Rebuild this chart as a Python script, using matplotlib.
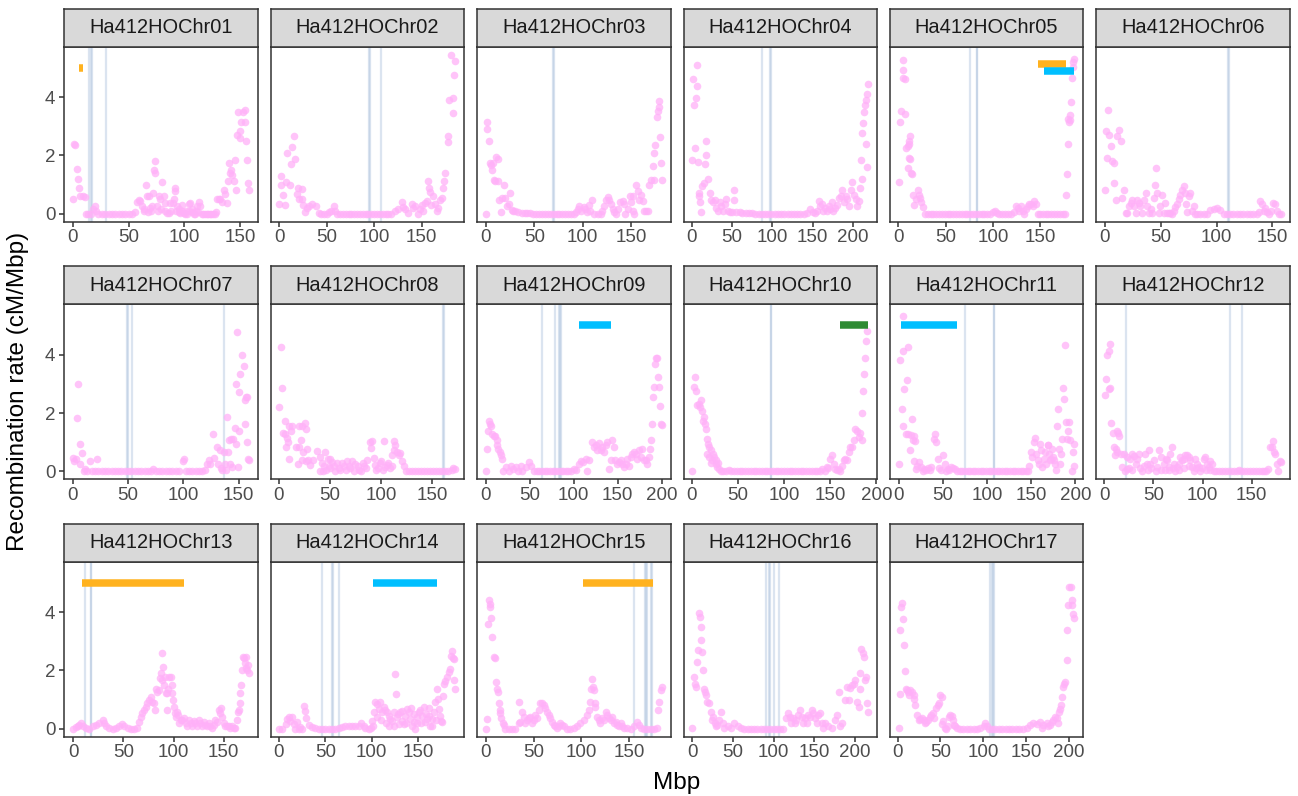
import matplotlib
matplotlib.use("Agg")
import matplotlib.pyplot as plt
from matplotlib.ticker import MultipleLocator

plt.rcParams['font.family'] = ['Liberation Sans', 'DejaVu Sans']

# ---------------------------------------------------------------------------
# Recombination rate (cM/Mbp) along each chromosome: (position Mbp, rate)
# ---------------------------------------------------------------------------
chrom_names = ["Ha412HOChr01", "Ha412HOChr02", "Ha412HOChr03", "Ha412HOChr04",
               "Ha412HOChr05", "Ha412HOChr06", "Ha412HOChr07", "Ha412HOChr08",
               "Ha412HOChr09", "Ha412HOChr10", "Ha412HOChr11", "Ha412HOChr12",
               "Ha412HOChr13", "Ha412HOChr14", "Ha412HOChr15", "Ha412HOChr16",
               "Ha412HOChr17"]

chr01 = [(0.3, 0.5), (1.5, 2.4), (2.4, 2.35), (3.6, 1.55), (4.5, 1.2), (5.7, 0.87), (6.9, 0.6),
         (9.2, 0.6), (10.7, 0.58), (12, 0), (14, 0), (16, 0), (18, 0.15), (19.7, 0.28), (21, 0.1),
         (23, 0), (26, 0), (29, 0), (32, 0), (35, 0), (38, 0), (41, 0), (44, 0), (47, 0), (50, 0),
         (53, 0), (56, 0.05), (57.5, 0.4), (59, 0.49), (60.4, 0.44), (62, 0.26), (63.4, 0.15),
         (64, 0.1), (65.6, 0.97), (66.5, 0.6), (67, 0.05), (68, 0.6), (69.5, 0.2), (70, 0.1),
         (71, 0.26), (72, 0.72), (72.4, 1.5), (73.4, 1.8), (74, 1.4), (75.4, 0.26), (76, 0.1),
         (77.5, 0.6), (78.4, 0.5), (79, 0.15), (80, 1.08), (81.4, 0.6), (82.3, 0.38), (83, 0.1),
         (84.4, 0.03), (86.5, 0.03), (87.4, 0.38), (88, 0.1), (89.7, 0.38), (90.3, 0.5),
         (91.8, 0.9), (91.8, 0.78), (92, 0.1), (93.3, 0.26), (94.8, 0.15), (95, 0.05),
         (96.3, 0.03), (97.8, 0.3), (98, 0.1), (99.3, 0.03), (100.8, 0), (101, 0.1), (102.3, 0),
         (103.8, 0.35), (104, 0.1), (105.2, 0.37), (106.7, 0.15), (107, 0.05), (108.2, 0),
         (109.7, 0), (110, 0.1), (111.2, 0.26), (112, 0.05), (113.3, 0.42), (114.2, 0.26),
         (115.7, 0), (117, 0), (118, 0), (120, 0), (121, 0), (123, 0), (124, 0), (126, 0),
         (127, 0), (128, 0.05), (129.1, 0.5), (130.6, 0.52), (132.1, 0.5), (133.6, 0.4),
         (135, 0.83), (136.6, 0.68), (138, 0.38), (139, 1.12), (139.9, 1.75), (141, 1.4),
         (141.6, 1.5), (142.5, 1.33), (144, 1.12), (144.9, 1.86), (146.4, 0.83), (147, 2.7),
         (147.9, 3.5), (149.4, 2.6), (150, 2.82), (150.6, 3.16), (152.1, 3.5), (153.9, 3.55),
         (154.5, 3.16), (155.4, 2.5), (156, 1.86), (156.8, 1.06), (157.7, 0.83)]

chr02 = [(0.5, 0.32), (2.0, 1.0), (2.3, 1.29), (4.2, 0.64), (6, 0.3), (7, 1.1), (8.7, 2.08),
         (11.2, 1.0), (12.9, 1.69), (13.6, 2.3), (15.7, 2.67), (16.8, 1.87), (18.5, 0.67),
         (19.9, 0.89), (21, 0.5), (23.7, 0.84), (23.7, 0.5), (25.5, 0.3), (27.2, 0.06),
         (29.6, 0.2), (32, 0.28), (34.9, 0.32), (38.4, 0.26), (41.8, 0.03), (44, 0), (47, 0),
         (50, 0), (53, 0.05), (55, 0.1), (57.5, 0.26), (59, 0.1), (61, 0), (64, 0), (67, 0),
         (70, 0), (73, 0), (76, 0), (79, 0), (82, 0), (85, 0), (88, 0), (91, 0), (94, 0), (97, 0),
         (100, 0), (103, 0), (106, 0), (109, 0), (112, 0), (115, 0), (118, 0), (122, 0.09),
         (125.5, 0.15), (129, 0.4), (130, 0.25), (132.5, 0.15), (136, 0.03), (139.5, 0.32),
         (141, 0.2), (142.9, 0.26), (146.4, 0), (148.2, 0.15), (149.9, 0.29), (151, 0.1),
         (153.3, 0.38), (155.8, 0.43), (156.8, 1.12), (157.5, 0.89), (158.5, 0.74), (160, 0.3),
         (162, 0.6), (163.7, 0.32), (165.5, 0.09), (167.2, 0.2), (168.9, 0.49), (170.7, 0.54),
         (172.4, 0.89), (173.5, 1.12), (174.1, 1.4), (177.2, 2.46), (177.9, 2.68), (178.9, 3.91),
         (180.3, 5.45), (182.4, 3.96), (183.0, 3.45), (184.1, 4.74), (185.2, 5.22)]

chr03 = [(0, 0), (1, 2.92), (1.4, 3.13), (2.7, 2.48), (3.8, 1.74), (5.5, 1.66), (6.5, 1.5),
         (7.2, 1.74), (7.9, 1.17), (9.6, 1.11), (10.7, 1.94), (12, 1.88), (13, 1.11), (14, 0.49),
         (15.4, 0.05), (16.5, 0.55), (18.9, 1.0), (19.9, 0.55), (21.7, 0.26), (23.4, 0.32),
         (25, 0.72), (26.8, 0.13), (28, 0.1), (30, 0.09), (33.5, 0.07), (37, 0.03), (40, 0.03),
         (43, 0.02), (46, 0.02), (49, 0), (52, 0), (55, 0), (58, 0), (61, 0), (64, 0), (67, 0),
         (70, 0), (73, 0), (76, 0), (79, 0), (82, 0), (85, 0), (88, 0), (91, 0), (93, 0.05),
         (94.7, 0.17), (96.4, 0.26), (98, 0.1), (100.9, 0.24), (102.6, 0.15), (104, 0.05),
         (106.8, 0.3), (108, 0.1), (109.9, 0.49), (112, 0), (115.4, 0), (118.9, 0), (120.5, 0.1),
         (122.3, 0.26), (124, 0.49), (125.8, 0.58), (127.5, 0.49), (129.2, 0.32), (131, 0.15),
         (132.5, 0.05), (134.4, 0), (136.1, 0.15), (138.9, 0.4), (141.3, 0.44), (142.3, 0.32),
         (144, 0), (146.4, 0.15), (149.2, 0.6), (149.9, 0.4), (151.6, 0.6), (151.6, 0.1),
         (153.3, 0), (155, 0.97), (156.8, 0.78), (158.5, 0.49), (160.2, 0.66), (162, 0.44),
         (163.7, 0.09), (165.4, 0.09), (167.8, 0.09), (168.9, 1.0), (170.7, 1.17), (172.4, 1.65),
         (173.4, 1.17), (174.1, 2.09), (175.2, 2.37), (176.9, 3.3), (177.6, 3.53), (178.6, 3.65),
         (179.3, 3.85), (180.3, 2.62), (181, 1.74), (181.7, 1.17)]

chr04 = [(0.8, 1.86), (2.1, 4.6), (3.4, 3.72), (4.2, 2.27), (5, 3.96), (6.3, 5.1), (7.1, 4.38),
         (7.9, 1.78), (9.1, 0.72), (9.6, 0.6), (10.5, 0.4), (11.3, 0.07), (13.4, 0.95),
         (15.5, 1.06), (16.8, 1.69), (17.6, 2.5), (18, 2.0), (20.1, 1.2), (22.2, 0.72),
         (24.3, 0.49), (26.4, 0.4), (28.5, 0.49), (30.6, 0.2), (32.5, 0.1), (34.8, 0.4),
         (36.9, 0.26), (39, 0.1), (41.1, 0.32), (43.2, 0.51), (45.3, 0.09), (48, 0.05), (50, 0.05),
         (52.4, 0.8), (52.8, 0.47), (55.3, 0.07), (59.5, 0.07), (63, 0.03), (67, 0.03), (71, 0.02),
         (75, 0.02), (79, 0), (83, 0), (87, 0), (91, 0), (95, 0), (99, 0), (103, 0), (107, 0),
         (111, 0), (115, 0), (119, 0), (123, 0), (127, 0), (131, 0), (135, 0), (139, 0),
         (143, 0.02), (147, 0.15), (150, 0.05), (153, 0.03), (155, 0.1), (157.5, 0.44),
         (159.6, 0.26), (161.7, 0.32), (163.5, 0.1), (165.9, 0.2), (168, 0.1), (170.1, 0.26),
         (172, 0.15), (174.3, 0.4), (176, 0.1), (178.5, 0.2), (180.5, 0.3), (182.7, 0.55),
         (184.8, 0.6), (186.9, 0.83), (189, 0.4), (191.1, 0.6), (193.2, 0.5), (195.3, 0.26),
         (197.4, 0.83), (199.5, 1.1), (201.6, 0.66), (203.7, 0.5), (205.8, 0.26), (207.9, 0.44),
         (209, 0.9), (210, 1.85), (211, 1.2), (212, 2.76), (213, 3.1), (214, 3.5), (215, 3.72),
         (216, 3.9), (217, 2.4), (217.5, 1.6), (218, 4.1), (219, 4.45)]

chr05 = [(0.1, 1.08), (1.8, 3.16), (2.5, 3.53), (4.3, 4.94), (5.0, 4.64), (5.3, 5.26), (6.8, 4.6),
         (7.1, 3.42), (8, 2.25), (9.8, 2.31), (10.8, 2.4), (11.5, 2.48), (12.5, 2.66), (9.8, 1.57),
         (10.8, 1.91), (12.2, 1.89), (13.2, 1.4), (14.2, 1.38), (15, 0.63), (16.7, 0.29),
         (18.5, 0.52), (20.3, 0.8), (21.3, 0.63), (23, 0.54), (23.7, 0.4), (25.5, 0.23), (28, 0),
         (31, 0), (34, 0), (37, 0), (40, 0), (43, 0), (46, 0), (49, 0), (52, 0), (55, 0), (58, 0),
         (61, 0), (64, 0), (67, 0), (70, 0), (73, 0), (76, 0), (79, 0), (82, 0), (85, 0), (88, 0),
         (91, 0), (94, 0), (97, 0), (100, 0.05), (101.8, 0.09), (104, 0.03), (107, 0), (110, 0),
         (113, 0), (116, 0), (119, 0), (122, 0.05), (124.7, 0.26), (126.4, 0.2), (128, 0.1),
         (129.9, 0.26), (131.5, 0.1), (133.5, 0), (135.3, 0.15), (137, 0.26), (138.8, 0.32),
         (140.6, 0.32), (142.3, 0.26), (144.1, 0.43), (145.9, 0.32), (147.6, 0), (150, 0),
         (153, 0), (156, 0), (159, 0), (162, 0), (165, 0), (168, 0), (171, 0), (174, 0), (176, 0),
         (177.7, 0.63), (178.4, 1.38), (179.5, 2.4), (180.1, 3.26), (181.2, 3.14), (181.9, 3.37),
         (182.2, 3.2), (183, 3.82), (184, 4.64), (184.8, 5.02), (185.5, 5.2), (186.5, 5.31)]

chr06 = [(0, 0.83), (1.2, 2.83), (2.1, 1.91), (3, 3.57), (3.6, 2.71), (5.1, 2.31), (6.6, 1.8),
         (8.1, 1.74), (8.1, 1.04), (9.5, 0.49), (11, 2.65), (12.5, 2.88), (14, 2.48), (15.5, 0.55),
         (17, 0.83), (18.5, 0.03), (20, 0.03), (21.4, 0.26), (22.9, 0.37), (24.4, 0.49),
         (25.9, 0.26), (27.4, 0.03), (28.9, 0.49), (30.4, 0.37), (31.8, 0.26), (33.3, 0.03),
         (34.8, 0.49), (36.3, 0.72), (37.8, 0.26), (39.3, 0.03), (40.8, 0.15), (42.3, 0.03),
         (43.7, 0.55), (45.2, 1.0), (45.5, 1.57), (46.7, 0.72), (48.2, 0.03), (49.7, 0.26),
         (51.2, 0.66), (52.7, 0.03), (54.2, 0.37), (55.6, 0.03), (57.1, 0.03), (58.6, 0.03),
         (60, 0), (61.5, 0.1), (63, 0.22), (64.5, 0.35), (66, 0.5), (67.5, 0.65), (69, 0.8),
         (70.5, 0.95), (71.5, 0.7), (72.5, 0.35), (73.5, 0.05), (75, 0.6), (76.5, 0.72), (78, 0.1),
         (79.4, 0.26), (80.9, 0), (82.4, 0), (85.4, 0), (88.4, 0), (91.4, 0), (94.3, 0.12),
         (97.3, 0.17), (100.3, 0.2), (103.3, 0.13), (106.3, 0), (109, 0), (112, 0), (115, 0),
         (118, 0), (121, 0), (124, 0), (127, 0), (130, 0), (133, 0), (136, 0), (138, 0.05),
         (139, 0.43), (140.5, 0.32), (142, 0.1), (143.5, 0.2), (145, 0.05), (147, 0), (149, 0.1),
         (150.9, 0.37), (152.4, 0.32), (154, 0.1), (155.5, 0), (157.5, 0)]

chr07 = [(0.2, 0.47), (1.4, 0.36), (2.9, 0.44), (3.9, 1.82), (4.5, 3.0), (6.3, 0.94), (6.9, 0.26),
         (8.4, 0.63), (9.9, 0.03), (11.4, 0.09), (13, 0), (15.3, 0.35), (17, 0), (20, 0),
         (21.9, 0.44), (23, 0.02), (26, 0), (29, 0), (32, 0), (35, 0), (38.4, 0.03), (41, 0),
         (44, 0), (47, 0), (50, 0), (53, 0), (56, 0), (59, 0), (62, 0), (65, 0), (68, 0),
         (71, 0.03), (72.9, 0.09), (75, 0.03), (78, 0), (81, 0), (84, 0), (87, 0), (90, 0),
         (93, 0), (96, 0), (99.3, 0.35), (100.5, 0.44), (102, 0), (105, 0), (108, 0), (111, 0),
         (114, 0), (117, 0), (120, 0.05), (121.3, 0.26), (122.8, 0.38), (124.3, 0.26),
         (126.7, 1.27), (127.9, 0.47), (130.1, 0.83), (131.4, 0.26), (132.9, 0.72), (134, 0.1),
         (135.3, 0.04), (136.5, 0.66), (137.4, 0.26), (138.9, 0.04), (139.8, 1.86), (140.4, 0.66),
         (141.3, 1.06), (141.9, 0.26), (142.8, 1.12), (143.7, 0.15), (144.9, 1.12), (146.4, 1.5),
         (147.3, 0.95), (147.9, 3.0), (148.9, 4.77), (149.4, 0.15), (150, 2.71), (150.3, 1.4),
         (151.5, 3.34), (153, 3.97), (155, 3.6), (155.4, 2.45), (156, 1.64), (156.3, 2.54),
         (157.2, 2.54), (157.5, 1.0), (158.4, 0.43), (159.3, 0.38)]

chr08 = [(0.7, 2.22), (1.7, 4.27), (2.7, 2.85), (4, 1.33), (5.7, 1.28), (6, 1.71), (7.4, 0.85),
         (8.4, 1.14), (9.4, 1.0), (10, 1.54), (10, 0.42), (11.7, 1.37), (12.8, 1.56), (16.8, 0.85),
         (18.5, 0.26), (20.1, 0.85), (20.1, 1.54), (21.8, 1.08), (22.8, 1.57), (22.8, 0.38),
         (23.5, 0.68), (25.8, 1.65), (26.2, 0.34), (26.8, 1.46), (27.9, 0.77), (28.5, 0.4),
         (30.2, 0.23), (33.6, 0.4), (37.6, 0.71), (40.3, 0.51), (40.3, 0), (41.9, 0.28),
         (43.6, 0), (44, 0.2), (45.3, 0.66), (46, 0.05), (48, 0.43), (48.7, 0.17), (50, 0.1),
         (50.3, 0.43), (52, 0.32), (54, 0.2), (55.4, 0), (57, 0.3), (58.7, 0.11), (60, 0.05),
         (62.1, 0.28), (64, 0.2), (65.4, 0.06), (67, 0.35), (68.8, 0.17), (70, 0.1), (72.1, 0.34),
         (73.8, 0.02), (75, 0.25), (77.2, 0.17), (79, 0.05), (80.5, 0), (82, 0.3), (83.9, 0.17),
         (85, 0.1), (86.6, 0.4), (88.9, 1.0), (90.6, 0.8), (91.3, 1.05), (93, 0.45), (94, 0.23),
         (95.6, 0.06), (97, 0.1), (99, 0.28), (100, 0.35), (102.3, 0.06), (103.4, 1.05),
         (104, 0.15), (105.7, 0.23), (107, 0.3), (109.1, 0.11), (110.7, 0.57), (111, 0.2),
         (112.4, 1.03), (113, 0.75), (114.1, 0.91), (115.8, 0.66), (117.4, 0.57), (119.1, 0.63),
         (120.8, 0.34), (122.5, 0.17), (124.2, 0), (127, 0), (130, 0), (133, 0), (136, 0),
         (139, 0), (142, 0), (145, 0), (148, 0), (151, 0), (154, 0), (157, 0), (160, 0), (163, 0),
         (166, 0.02), (169.5, 0.06), (171, 0.11), (172.8, 0.09)]

chr09 = [(0, 0), (1.5, 0.78), (2.3, 1.4), (3.4, 1.72), (4.6, 1.63), (6.1, 1.57), (7.3, 1.29),
         (9.2, 1.23), (10.3, 1.2), (12.2, 1.06), (13, 0.89), (14.1, 0.78), (15.6, 0.66),
         (16.8, 0.55), (17.9, 0.43), (19, 0.03), (22.4, 0.15), (26.2, 0.03), (28.9, 0.2),
         (31.2, 0.09), (33.8, 0.15), (36.5, 0.03), (39.5, 0.17), (41.4, 0.03), (45.2, 0.15),
         (49, 0.32), (50.9, 0.2), (54.7, 0.03), (58, 0), (61, 0), (64, 0), (67, 0), (70, 0),
         (73, 0), (76, 0), (79, 0), (82, 0), (85, 0), (88, 0), (91, 0), (94, 0), (97, 0),
         (100.1, 0.09), (102, 0.05), (105.8, 0.26), (107.7, 0.34), (110.8, 0.32), (113.4, 0.43),
         (115.3, 0.03), (117.2, 0.38), (121.1, 1.0), (123, 0.83), (124.9, 0.89), (126.8, 0.72),
         (128.7, 0.97), (130.6, 0.74), (132.5, 0.83), (134.4, 0.68), (136.3, 0.89), (138.2, 1.0),
         (140.1, 0.09), (142, 0.38), (143.9, 1.08), (145.8, 0.83), (146.5, 0.4), (149.5, 0.26),
         (151.5, 0.32), (153.4, 0.38), (155.3, 0.26), (157.2, 0.15), (159.1, 0.26), (161, 0.43),
         (162.9, 0.2), (164.8, 0.49), (166.7, 0.6), (168.6, 0.66), (170.5, 0.6), (172.4, 0.43),
         (174.3, 0.72), (176.2, 0.49), (178.1, 0.78), (180, 0.38), (181.9, 0.38), (183.8, 0.26),
         (185.7, 0.49), (186.8, 0.78), (188.3, 1.06), (189.5, 1.63), (190.6, 2.54), (191.8, 2.88),
         (192.5, 3.68), (193.7, 3.9), (195.2, 3.88), (196.3, 3.24), (197.1, 2.88), (198.2, 2.23),
         (199, 1.63), (200.1, 1.6)]

chr10 = [(0.7, 0), (2.5, 2.88), (3.6, 3.22), (4.3, 2.77), (6.1, 2.29), (7.9, 2.31), (9, 2.2),
         (10.4, 2.45), (11.5, 2.08), (12.6, 1.74), (13.3, 1.86), (14.4, 1.63), (15.5, 1.46),
         (16.2, 1.12), (17, 0.6), (17.6, 0.95), (19, 0.5), (19.1, 0.83), (20.5, 0.72), (21, 0.3),
         (22.3, 0.38), (23, 0.6), (24.1, 0.49), (25.9, 0.26), (26, 0.4), (27.7, 0.15), (28, 0.3),
         (29.5, 0.09), (31.3, 0.03), (34, 0), (37, 0.02), (40, 0.05), (43, 0), (46, 0), (49, 0),
         (52, 0), (55, 0), (58, 0), (61, 0), (64, 0), (67, 0), (70, 0), (73, 0), (76, 0), (79, 0),
         (82, 0), (85, 0), (88, 0), (91, 0), (94, 0), (97, 0), (100, 0), (103, 0), (106, 0),
         (109, 0), (112, 0), (115, 0), (118, 0), (121, 0), (124, 0), (127, 0), (130, 0), (133, 0),
         (136, 0), (139, 0.03), (141, 0.09), (144, 0.03), (146.4, 0.15), (148, 0.1), (150, 0.43),
         (151.8, 0.55), (153.6, 0.26), (155.4, 0.09), (157, 0.05), (159, 0.09), (160.8, 0.03),
         (162.5, 0.2), (164.4, 0.38), (166.2, 0.43), (168, 0.38), (169.8, 0.66), (171.6, 0.83),
         (173.4, 0.83), (175.2, 1.06), (177, 1.46), (178.8, 1.4), (180.6, 1.18), (182.4, 1.31),
         (184.2, 1.06), (184.9, 2.0), (186, 2.75), (186.7, 3.34), (187.8, 3.9), (188.5, 4.47),
         (189.6, 4.81)]

chr11 = [(0, 0.26), (1.5, 3.82), (3.4, 2.14), (4.5, 4.14), (4.5, 1.55), (5.2, 5.33), (6.4, 2.83),
         (8.3, 1.29), (9.4, 3.13), (10.1, 4.25), (10.9, 1.29), (13.2, 0.75), (13.9, 1.25),
         (14.7, 1.78), (15.8, 1.06), (16.9, 0.35), (17.7, 1.23), (18.5, 1.04), (19.6, 0.09),
         (21, 0.2), (23.4, 0.32), (25.3, 0.15), (27.2, 0.03), (29, 0.09), (31, 0.05), (33, 0.1),
         (35, 0.05), (37, 0.15), (39.6, 1.12), (41.4, 1.29), (42.5, 1.0), (44.4, 0.41), (46, 0.1),
         (48, 0.05), (50.1, 0.57), (52, 0.26), (53.9, 0.03), (55.8, 0.09), (57.5, 0.05),
         (59.5, 0.15), (61.4, 0.1), (63.3, 0.09), (66, 0), (69, 0), (72, 0), (75, 0), (78, 0),
         (81, 0), (84, 0), (87, 0), (90, 0), (93, 0), (96, 0), (99, 0), (102, 0), (105, 0),
         (108, 0), (111, 0), (114, 0), (117, 0), (120, 0), (123, 0), (126, 0), (129, 0), (132, 0),
         (135, 0), (138, 0), (141, 0), (144, 0), (146, 0.03), (147.9, 0.2), (149.8, 0.66),
         (150.6, 0.49), (152.9, 1.0), (154.4, 1.15), (155.5, 0.6), (157.4, 0.38), (159.3, 0.26),
         (160.4, 0.95), (161.2, 0.72), (162.3, 0.15), (164.2, 0.43), (165.7, 0.66), (166.8, 0.26),
         (168.7, 0.89), (169.5, 0.91), (170.6, 0.6), (171.7, 0.38), (172.4, 0.43), (173.6, 0.78),
         (174.4, 0.49), (175.5, 0.38), (177, 0.26), (178.1, 0.06), (179.3, 1.57), (180, 2.14),
         (181.2, 0.78), (182.3, 0.26), (183.8, 0.6), (184.9, 1.12), (185.7, 2.86), (186.8, 2.48),
         (188.3, 4.34), (189.4, 1.68), (190.6, 1.12), (192.1, 1.4), (193.2, 1.68), (194.4, 1.06),
         (195.9, 0.03), (197, 0.66), (198.1, 0.95), (198.9, 0.2)]

chr12 = [(0.7, 2.63), (2, 3.17), (3, 4.0), (4.7, 4.11), (5.7, 4.38), (4.7, 2.82), (6.3, 2.86),
         (7.3, 1.66), (8.7, 1.31), (9.7, 0.83), (10.4, 0.55), (11.4, 0.78), (13.1, 1.37),
         (13.8, 1.31), (14.8, 1.23), (13.1, 0.66), (16.5, 0.6), (18, 0.15), (19.9, 0.6),
         (21.5, 0.03), (23.2, 0.09), (23.2, 0.49), (25, 0.1), (26.6, 0.43), (28, 0.05),
         (28.4, 0.6), (30.1, 0.52), (31.8, 0.26), (33.4, 0.43), (35.1, 0.6), (36, 0.1),
         (38.5, 0.03), (40, 0.2), (41.9, 0.6), (43.6, 0.26), (44, 0.05), (45.3, 0.72), (47, 0.26),
         (48, 0.1), (50.4, 0.38), (52.1, 0), (53.8, 0.15), (55.5, 0.72), (57.2, 0.49), (58, 0.05),
         (60.6, 0.26), (62, 0.05), (62.3, 0.43), (63.9, 0.38), (65.6, 0.15), (66, 0.05),
         (67.3, 0.6), (69, 0.83), (70, 0.1), (70.7, 0.26), (72.4, 0.03), (74.1, 0.15), (75.8, 0.26),
         (76, 0.05), (77.4, 0.49), (79.1, 0.38), (80.8, 0.43), (81, 0.1), (82.5, 0.55),
         (84.2, 0.55), (85.9, 0.49), (86, 0.2), (87.6, 0.38), (89.3, 0.15), (91, 0.03),
         (92.7, 0.43), (93, 0.1), (94.4, 0.26), (96, 0.15), (97.7, 0.03), (99, 0.1), (101.1, 0.43),
         (102.8, 0.49), (103, 0.05), (104.5, 0.26), (106.2, 0.15), (107.9, 0.36), (108, 0.05),
         (109.6, 0.26), (111.3, 0.03), (114, 0), (117, 0), (120, 0), (123, 0), (126, 0), (129, 0),
         (132, 0), (135, 0.02), (137, 0.05), (139, 0.02), (142, 0), (145, 0), (148, 0), (151, 0),
         (154, 0), (157, 0), (160, 0), (163, 0), (165, 0), (167, 0.09), (168.7, 0.83),
         (170.4, 0.85), (172.1, 1.04), (173.1, 0.66), (173.8, 0.6), (175.5, 0.26), (177.2, 0.03),
         (178.9, 0.36), (179.6, 0.32)]

chr13 = [(0, 0), (3, 0.06), (4.6, 0.1), (6.3, 0.14), (7.9, 0.19), (9.6, 0.08), (12.9, 0.02),
         (16.2, 0), (19.5, 0.08), (22.8, 0.14), (26.1, 0.19), (29.4, 0.31), (31, 0.19), (32.7, 0.08),
         (36, 0.02), (39.3, 0), (42.6, 0.02), (45.9, 0.08), (48.2, 0.16), (50.9, 0.08), (54.2, 0.02),
         (57.5, 0), (60.8, 0), (64.1, 0.02), (65.7, 0.25), (67.4, 0.42), (69, 0.53), (70.7, 0.65),
         (72.3, 0.76), (74, 0.87), (75.6, 0.99), (77.3, 1.1), (78.9, 0.93), (80.6, 0.87),
         (81.6, 0.65), (82.2, 1.38), (83.9, 1.27), (85.5, 1.33), (86.5, 1.73), (87.2, 1.9),
         (88.2, 1.67), (88.8, 2.58), (89.8, 2.12), (90.5, 1.5), (91.5, 1.78), (92.2, 1.22),
         (93.2, 0.65), (93.8, 1.22), (94.8, 1.38), (95.8, 1.78), (97.1, 1.78), (98.1, 1.5),
         (98.8, 1.22), (99.8, 0.99), (100.4, 0.76), (101.4, 0.53), (102.1, 0.42), (103.7, 0.59),
         (104.7, 0.47), (105.4, 0.19), (107, 0.31), (108.7, 0.31), (110.3, 0.37), (111.9, 0.19),
         (113.6, 0.08), (115.2, 0.31), (116.9, 0.19), (118.5, 0.08), (120.2, 0.28), (121.8, 0.19),
         (123.5, 0.08), (125.1, 0.31), (126.8, 0.19), (128.4, 0.08), (130.1, 0.25), (131.7, 0.14),
         (133.4, 0.08), (135, 0.19), (136.7, 0.08), (138.3, 0.02), (140, 0.14), (141.6, 0.31),
         (143.3, 0.25), (144.9, 0.65), (146.6, 0.53), (147.6, 0.71), (148.2, 0.42), (149.9, 0.19),
         (151.5, 0.08), (153.2, 0.08), (154.8, 0.1), (156.5, 0.02), (158.1, 0.08), (159.8, 0.02),
         (161.4, 0.02), (163.1, 0.31), (163.8, 0.59), (164.8, 0.65), (165.8, 0.87), (166.4, 1.22),
         (167.1, 1.5), (168.1, 2.01), (169.1, 2.47), (169.8, 2.42), (170.7, 2.24), (171.7, 2.47),
         (172.4, 2.07), (173, 2.01), (174, 2.19), (175, 1.9)]

chr14 = [(0.7, 0), (3.6, 0), (7.2, 0.17), (9, 0.34), (10.8, 0.4), (12.5, 0.26), (14.3, 0.4),
         (16.1, 0.17), (17.9, 0), (19.7, 0.23), (21.5, 0), (23.3, 0.06), (25.1, 0), (27.6, 0.77),
         (28.5, 0.6), (29.4, 0.36), (32.3, 0.14), (35.8, 0.06), (39.4, 0.02), (43, 0), (46.6, 0),
         (50.2, 0), (53.8, 0), (57.3, 0), (60.9, 0), (64.5, 0.02), (68.1, 0.06), (71.7, 0.09),
         (75.3, 0.09), (78.9, 0.11), (82.4, 0.11), (86, 0.11), (88.5, 0.2), (91.4, 0.11),
         (93.2, 0.02), (96.8, 0), (99.6, 0.02), (100.4, 0.28), (101, 0.1), (102.2, 0.57),
         (103.9, 0.91), (105.7, 0.85), (106, 0.4), (107.5, 0.68), (109.3, 0.91), (110, 0.3),
         (111.1, 0.57), (112.9, 0.74), (114.7, 0.63), (115, 0.2), (116.5, 0.57), (118.3, 0.45),
         (119, 0.1), (120.1, 0.34), (121.9, 0.28), (123.7, 0.57), (124, 0.1), (125.4, 1.88),
         (126.5, 1.19), (127.2, 0.4), (128, 0.5), (129, 0.17), (130.8, 0.57), (132.6, 0.28),
         (133, 0.6), (134.4, 0.17), (136.2, 0.45), (137, 0.2), (138, 0.68), (139.8, 0.57),
         (141.6, 0.34), (142, 0.7), (143.4, 0.11), (145.2, 0.23), (146, 0.5), (147, 0),
         (148.7, 0.4), (149, 0.2), (150.5, 0.57), (152.3, 0.63), (153, 0.2), (154.1, 0.45),
         (155.9, 0.74), (157.7, 0.23), (158, 0.5), (159.5, 0.34), (161.3, 0.45), (162, 0.7),
         (163.1, 0.11), (164.9, 0.34), (165, 0.1), (166.7, 0.57), (168.5, 0.91), (169, 0.3),
         (170.3, 1.36), (171.3, 1.02), (172, 0.68), (173.8, 0.45), (174.9, 0.28), (175.6, 0.23),
         (176.3, 1.14), (177.4, 1.53), (179.2, 1.65), (181, 1.76), (182.8, 1.93), (184.6, 2.05),
         (185.7, 2.5), (186.4, 2.67), (187.1, 2.44), (188.2, 2.39), (188.9, 1.68), (190, 1.36)]

chr15 = [(0, 0), (1.1, 0.33), (1.7, 3.6), (2.8, 4.4), (3.8, 4.29), (4.5, 4.17), (5.6, 3.81),
         (6.6, 3.13), (8, 2.47), (9.1, 2.44), (10.1, 1.61), (11.5, 1.38), (12.6, 1.27), (13.3, 0.87),
         (14.3, 0.53), (15, 0.65), (16.1, 0.36), (17.5, 0.19), (18.5, 0.14), (20.3, 0), (23.8, 0),
         (27.3, 0), (30.8, 0), (34.3, 0.19), (35, 0.93), (36.1, 0.25), (37.8, 0.59), (39.6, 0.42),
         (41.3, 0.19), (43.1, 0.31), (44.8, 0.36), (46.6, 0.42), (48.3, 0.19), (50.1, 0.31),
         (51.9, 0.48), (53.6, 0.36), (55.4, 0.65), (57.1, 0.87), (58.9, 0.9), (60.6, 0.82),
         (62.4, 0.71), (64.1, 0.59), (65.9, 0.48), (67.6, 0.36), (69.4, 0.25), (71.1, 0.14),
         (72.9, 0.08), (74.6, 0.02), (76.4, 0.08), (78.1, 0.19), (79.9, 0.14), (81.6, 0.08),
         (85.1, 0), (88.6, 0), (92.1, 0.02), (95.6, 0.1), (99.2, 0.19), (102.7, 0.31),
         (106.2, 0.48), (107.9, 0.65), (109.7, 0.93), (110.7, 1.38), (111.4, 1.72), (112.5, 1.44),
         (113.2, 1.33), (114.2, 0.87), (114.9, 0.76), (116.7, 0.42), (118.5, 0.31), (120.2, 0.19),
         (122, 0.36), (123.7, 0.31), (125.5, 0.59), (127.2, 0.48), (129, 0.36), (130.7, 0.31),
         (132.5, 0.42), (134.2, 0.19), (136, 0.25), (137.7, 0.14), (139.5, 0.08), (141.2, 0.19),
         (143, 0.08), (144.8, 0.02), (148.3, 0.02), (151.8, 0), (155.3, 0.08), (158.8, 0.25),
         (160.6, 0.14), (162.3, 0.02), (165.8, 0), (169.3, 0), (172.8, 0), (176.3, 0), (179.8, 0.02),
         (180.9, 0.65), (181.9, 0.93), (183.3, 1.33), (184.4, 1.44)]

chr16 = [(0, 0.02), (2, 1.78), (3.3, 1.55), (4.9, 1.44), (6.1, 2.29), (7.4, 2.69), (8.2, 3.96),
         (9.4, 3.82), (10.3, 3.48), (11.1, 3.03), (12.3, 2.63), (13.6, 2.01), (14.4, 1.38),
         (15.2, 1.27), (16.5, 1.16), (18.5, 0.93), (20.6, 0.87), (22.7, 0.59), (24.8, 0.31),
         (26, 0.42), (27.7, 0.19), (28.9, 0.08), (31, 0.14), (33, 0.31), (35.1, 0.59), (37.2, 0.19),
         (39.3, 0.02), (43.4, 0.08), (47.6, 0.02), (51.7, 0.19), (55.9, 0.08), (60, 0.02),
         (64.2, 0), (68, 0), (72, 0), (76, 0), (80, 0), (84, 0), (88, 0), (92, 0), (96, 0),
         (100, 0), (104, 0), (108, 0), (112, 0), (115.9, 0.36), (118, 0.53), (120, 0.42),
         (122.1, 0.19), (124.2, 0.36), (126.2, 0.19), (128.3, 0.31), (130.4, 0.48), (132.4, 0.65),
         (134.5, 0.42), (136.6, 0.19), (138.6, 0.36), (140.7, 0.19), (142.9, 0.48), (144.8, 0.42),
         (147, 0.65), (149.1, 0.53), (151.1, 0.36), (153.2, 0.19), (155.3, 0.48), (157.3, 0.53),
         (159.4, 0.19), (161.5, 0.02), (163.5, 0.19), (167.7, 0.08), (171.8, 0.02), (175.9, 0.31),
         (178, 0.48), (180.1, 1.27), (182.1, 0.08), (184.2, 0.19), (188.3, 1.0), (190.4, 1.44),
         (192.5, 1.0), (194.5, 1.4), (196.6, 1.5), (198.8, 1.55), (200.7, 1.67), (202.9, 0.93),
         (205, 0.76), (206.2, 1.38), (207, 1.9), (208.2, 2.75), (209.9, 2.58), (211.2, 2.47),
         (212.4, 1.67), (214, 1.78), (215.3, 0.88), (216.5, 0.59)]

chr17 = [(1.2, 0.02), (2.4, 1.18), (3.1, 3.4), (3.9, 4.17), (5.1, 4.31), (5.9, 3.77), (7, 2.87),
         (8.2, 1.99), (9.7, 1.38), (10.9, 1.33), (12.1, 1.27), (13.2, 1.16), (14.8, 1.33),
         (16.7, 1.27), (18.7, 1.16), (19.5, 1.01), (20.6, 0.82), (22.6, 0.48), (24.5, 0.31),
         (26.5, 0.33), (28.4, 0.36), (30.3, 0.31), (32.3, 0.19), (33.4, 0.25), (35.4, 0.31),
         (37.3, 0.42), (39.3, 0.48), (41.2, 0.53), (42.8, 0.36), (45.1, 0.71), (46.7, 0.82),
         (48.2, 0.9), (49.8, 1.16), (51.3, 1.1), (51.7, 0.17), (52.9, 0.28), (54.8, 0.02),
         (56.8, 0), (58.7, 0.08), (59.5, 0.42), (61.4, 0.48), (63.4, 0.44), (64.5, 0.31),
         (66.1, 0.14), (67.2, 0.08), (69.2, 0.02), (73.1, 0), (76.9, 0), (80.8, 0), (84.7, 0),
         (88.6, 0), (92.5, 0), (96.4, 0.02), (100.3, 0.08), (102.2, 0.19), (104.1, 0.08),
         (106.1, 0), (110, 0), (114, 0), (118, 0), (122, 0), (126, 0), (130, 0), (134, 0), (138, 0),
         (142, 0), (146, 0), (150.8, 0.02), (154.6, 0.14), (158.5, 0.19), (162.4, 0.17),
         (166.3, 0.22), (168.2, 0.02), (170.2, 0.14), (174.1, 0.19), (176, 0.08), (177.9, 0.14),
         (179.9, 0.25), (181.8, 0.31), (183.8, 0.42), (185.7, 0.36), (187.6, 0.19), (188.8, 0.59),
         (189.6, 0.68), (190.7, 0.82), (191.9, 1.08), (193.5, 1.44), (194.6, 1.55), (195.8, 1.61),
         (197.4, 2.35), (198.1, 3.4), (199.3, 4.25), (200.5, 4.85), (202, 4.87), (203.2, 4.42),
         (204, 4.25), (205.1, 3.94), (206.3, 3.79)]

# Marked positions (Mbp) shown as vertical lines
chr01_lines = [14.5, 16.0, 17.4, 29.5]
chr02_lines = [94.6, 95.4, 106.7]
chr03_lines = [69.6, 70.1]
chr04_lines = [86.8, 97.8, 98.4]
chr05_lines = [76.3, 83.1, 83.7]
chr06_lines = [110.4, 111.0]
chr07_lines = [49.2, 49.8, 53.5, 136.7]
chr08_lines = [160.9, 161.5]
chr09_lines = [63.4, 78.2, 83.2, 84.2, 85.0]
chr10_lines = [85.8, 86.3]
chr11_lines = [75.0, 107.7, 108.3]
chr12_lines = [22.3, 128.2, 140.4]
chr13_lines = [11.6, 17.4, 18.2]
chr14_lines = [46.6, 57.3, 58.8, 65.0]
chr15_lines = [155.6, 167.3, 168.0, 169.3, 173.3, 174.0]
chr16_lines = [91.0, 95.0, 95.6, 100.2, 106.8]
chr17_lines = [108.3, 109.8, 111.3, 112.6]

# Highlighted intervals drawn as horizontal bars
bar_chrom = ["Ha412HOChr01", "Ha412HOChr05", "Ha412HOChr05", "Ha412HOChr09", "Ha412HOChr10",
             "Ha412HOChr11", "Ha412HOChr13", "Ha412HOChr14", "Ha412HOChr15"]
bar_start = [6.0, 148.0, 154.3, 105.6, 160.7, 2.6, 8.9, 101.5, 102.3]
bar_end = [9.6, 177.6, 186.0, 142.0, 191.0, 66.0, 110.0, 170.8, 174.9]
bar_level = [5.0, 5.12, 4.9, 5.0, 5.0, 5.0, 5.0, 5.0, 5.0]
bar_group = ["orange", "orange", "blue", "blue", "green", "blue", "orange", "blue", "orange"]
bar_palette = {"orange": "#FFB21F", "blue": "#00BFFF", "green": "#2E8B33"}

rates = [chr01, chr02, chr03, chr04, chr05, chr06, chr07, chr08, chr09,
         chr10, chr11, chr12, chr13, chr14, chr15, chr16, chr17]
lines = [chr01_lines, chr02_lines, chr03_lines, chr04_lines, chr05_lines, chr06_lines,
         chr07_lines, chr08_lines, chr09_lines, chr10_lines, chr11_lines, chr12_lines,
         chr13_lines, chr14_lines, chr15_lines, chr16_lines, chr17_lines]

# ---------------------------------------------------------------------------
# Layout (pixels on a 1298 x 796 canvas)
# ---------------------------------------------------------------------------
W, H = 1298, 796
col_left = [64.3, 270.7, 477.1, 683.5, 889.8, 1096.2]
panel_w = 193.4
panel_bottom = [221.7, 479.3, 736.7]
panel_h = 175.2
strip_h = 37.8
ncol = 6

border = "#333333"
fig = plt.figure(figsize=(W / 100, H / 100), dpi=100)

for i, name in enumerate(chrom_names):
    r, c = divmod(i, ncol)
    left = col_left[c] / W
    ax = fig.add_axes([left, 1 - panel_bottom[r] / H, panel_w / W, panel_h / H])
    sax = fig.add_axes([left, 1 - (panel_bottom[r] - panel_h) / H, panel_w / W, strip_h / H])

    xs = [p[0] for p in rates[i]]
    ys = [p[1] for p in rates[i]]

    for x in lines[i]:
        ax.axvline(x, color="#B0C4DE", alpha=0.45, lw=1.6, zorder=1)

    ax.scatter(xs, ys, s=30, c="#FFB0F8", alpha=0.75, linewidths=0, zorder=2)

    all_x = xs + lines[i]
    for ch, s, e, lv, g in zip(bar_chrom, bar_start, bar_end, bar_level, bar_group):
        if ch == name:
            ax.plot([s, e], [lv, lv], color=bar_palette[g], lw=5.4,
                    solid_capstyle="butt", zorder=3)
            all_x += [s, e]

    lo, hi = min(all_x), max(all_x)
    pad = 0.05 * (hi - lo)
    ax.set_xlim(lo - pad, hi + pad)
    ax.set_ylim(-0.27, 5.73)
    ax.xaxis.set_major_locator(MultipleLocator(50))
    ax.set_yticks([0, 2, 4])

    for sp in ax.spines.values():
        sp.set_color(border)
        sp.set_linewidth(1.1)
    ax.tick_params(axis="both", length=3.5, width=1.1, color=border,
                   labelcolor="#4D4D4D", labelsize=13.5, pad=2.0)
    ax.tick_params(axis="y", pad=3.0)
    if c != 0:
        ax.tick_params(axis="y", left=False, labelleft=False)

    sax.set_facecolor("#D9D9D9")
    sax.set_xticks([])
    sax.set_yticks([])
    for sp in sax.spines.values():
        sp.set_color(border)
        sp.set_linewidth(1.1)
    sax.text(0.5, 0.5, name, ha="center", va="center", fontsize=14.4,
             color="#1A1A1A", transform=sax.transAxes)

fig.text((col_left[0] + col_left[-1] + panel_w) / 2 / W, 1 - 783 / H, "Mbp",
         ha="center", va="center", fontsize=17.5, color="black")
fig.text(18 / W, 1 - 391.7 / H, "Recombination rate (cM/Mbp)", rotation=90,
         ha="center", va="center", fontsize=17.5, color="black")

fig.savefig("out.png", dpi=100, facecolor="white")
